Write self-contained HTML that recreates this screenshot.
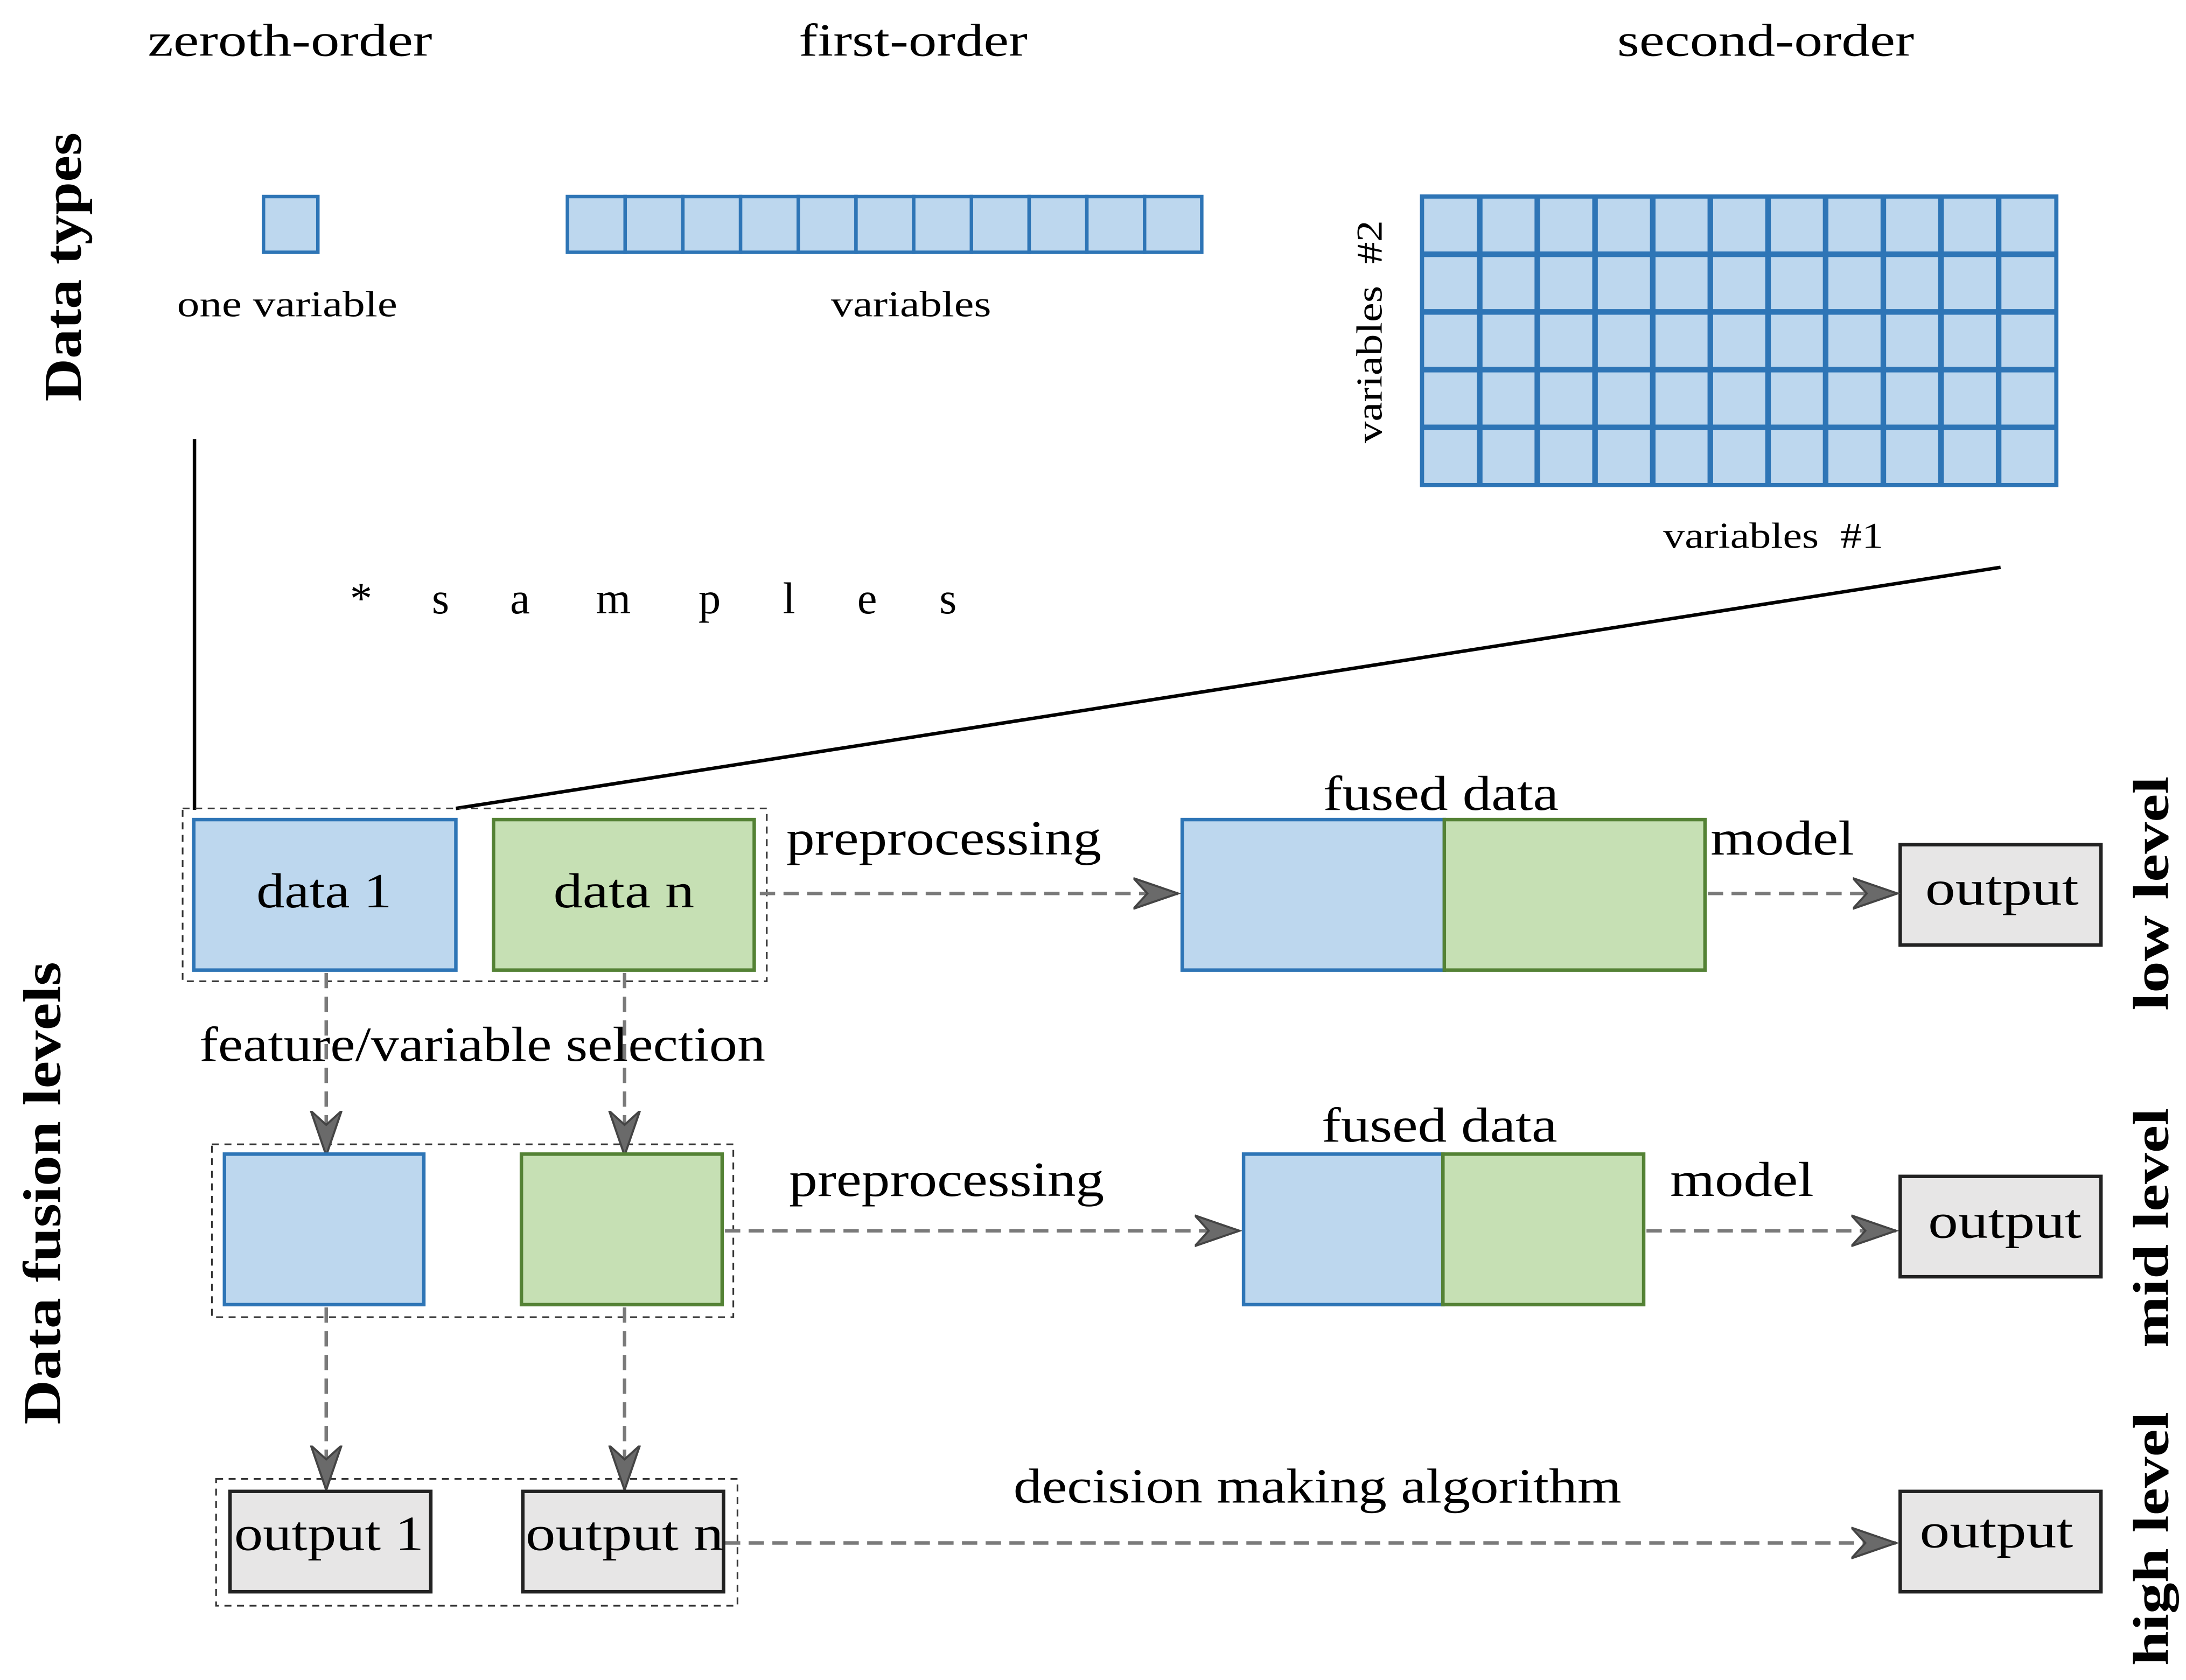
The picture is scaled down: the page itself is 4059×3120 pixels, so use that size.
<!DOCTYPE html>
<html><head><meta charset="utf-8">
<style>
html,body{margin:0;padding:0;background:#fff;}
svg{display:block;}
text{font-family:"Liberation Serif",serif;fill:#000;}
</style></head>
<body>
<svg width="4059" height="3120" viewBox="0 0 1568 1205.3" preserveAspectRatio="none" xmlns="http://www.w3.org/2000/svg">
<defs>
<marker id="ah" markerWidth="34" markerHeight="24" refX="32" refY="12" orient="auto" markerUnits="userSpaceOnUse">
<path d="M0,1 L32,12 L0,23 L10,12 Z" fill="#6a6a6a" stroke="#444" stroke-width="1.5"/>
</marker>
</defs>

<!-- headers -->
<text x="106" y="40" font-size="33" textLength="204" lengthAdjust="spacingAndGlyphs">zeroth-order</text>
<text x="573" y="40" font-size="33" textLength="164" lengthAdjust="spacingAndGlyphs">first-order</text>
<text x="1160" y="40" font-size="33" textLength="213" lengthAdjust="spacingAndGlyphs">second-order</text>
<text transform="translate(58,288) rotate(-90)" font-size="38" font-weight="bold" textLength="193" lengthAdjust="spacingAndGlyphs">Data types</text>

<!-- zeroth -->
<rect x="189" y="141" width="39" height="40" fill="#bdd7ee" stroke="#2e75b6" stroke-width="2.5"/>
<text x="127" y="227" font-size="26" textLength="158" lengthAdjust="spacingAndGlyphs">one variable</text>

<!-- first order -->
<g fill="#bdd7ee" stroke="#2e75b6" stroke-width="2.5">
<rect x="407" y="141" width="41.4" height="40"/><rect x="448.4" y="141" width="41.4" height="40"/>
<rect x="489.8" y="141" width="41.4" height="40"/><rect x="531.2" y="141" width="41.4" height="40"/>
<rect x="572.6" y="141" width="41.4" height="40"/><rect x="614" y="141" width="41.4" height="40"/>
<rect x="655.4" y="141" width="41.4" height="40"/><rect x="696.8" y="141" width="41.4" height="40"/>
<rect x="738.2" y="141" width="41.4" height="40"/><rect x="779.6" y="141" width="41.4" height="40"/>
<rect x="821" y="141" width="41" height="40"/>
</g>
<text x="596" y="227" font-size="26" textLength="115" lengthAdjust="spacingAndGlyphs">variables</text>

<!-- second order grid -->
<rect x="1020" y="141" width="455" height="207" fill="#bdd7ee" stroke="#2e75b6" stroke-width="3"/>
<g stroke="#2e75b6" stroke-width="4">
<line x1="1061.4" y1="141" x2="1061.4" y2="348"/><line x1="1102.7" y1="141" x2="1102.7" y2="348"/>
<line x1="1144.1" y1="141" x2="1144.1" y2="348"/><line x1="1185.5" y1="141" x2="1185.5" y2="348"/>
<line x1="1226.8" y1="141" x2="1226.8" y2="348"/><line x1="1268.2" y1="141" x2="1268.2" y2="348"/>
<line x1="1309.5" y1="141" x2="1309.5" y2="348"/><line x1="1350.9" y1="141" x2="1350.9" y2="348"/>
<line x1="1392.3" y1="141" x2="1392.3" y2="348"/><line x1="1433.6" y1="141" x2="1433.6" y2="348"/>
<line x1="1020" y1="182.4" x2="1475" y2="182.4"/><line x1="1020" y1="223.8" x2="1475" y2="223.8"/>
<line x1="1020" y1="265.2" x2="1475" y2="265.2"/><line x1="1020" y1="306.6" x2="1475" y2="306.6"/>
</g>
<text transform="translate(991,318) rotate(-90)" font-size="26" textLength="160" lengthAdjust="spacingAndGlyphs" xml:space="preserve">variables  #2</text>
<text x="1193" y="393" font-size="26" textLength="158" lengthAdjust="spacingAndGlyphs" xml:space="preserve">variables  #1</text>

<!-- samples -->
<g font-size="32" text-anchor="middle">
<text x="259" y="440">*</text><text x="316" y="440">s</text><text x="373" y="440">a</text>
<text x="440" y="440">m</text><text x="509" y="440">p</text><text x="566" y="440">l</text>
<text x="622" y="440">e</text><text x="680" y="440">s</text>
</g>
<line x1="139.5" y1="315" x2="139.5" y2="581" stroke="#000" stroke-width="2.5"/>
<line x1="327" y1="580" x2="1435" y2="407" stroke="#000" stroke-width="2.5"/>

<text transform="translate(43,1022) rotate(-90)" font-size="38" font-weight="bold" textLength="332" lengthAdjust="spacingAndGlyphs">Data fusion levels</text>

<!-- dashed group boxes -->
<g fill="none" stroke="#333" stroke-width="1.2" stroke-dasharray="5 4">
<rect x="131" y="580" width="419" height="124"/>
<rect x="152" y="821" width="374" height="124"/>
<rect x="155" y="1061" width="374" height="91"/>
</g>

<!-- low level -->
<rect x="139" y="588" width="188" height="108" fill="#bdd7ee" stroke="#2e75b6" stroke-width="2.5"/>
<rect x="354" y="588" width="187" height="108" fill="#c6e0b4" stroke="#548235" stroke-width="2.5"/>
<text x="184" y="651" font-size="35" textLength="97" lengthAdjust="spacingAndGlyphs">data 1</text>
<text x="397" y="651" font-size="35" textLength="101" lengthAdjust="spacingAndGlyphs">data n</text>
<text x="564" y="613" font-size="35" textLength="226" lengthAdjust="spacingAndGlyphs">preprocessing</text>
<rect x="848" y="588" width="188" height="108" fill="#bdd7ee" stroke="#2e75b6" stroke-width="2.5"/>
<rect x="1036" y="588" width="187" height="108" fill="#c6e0b4" stroke="#548235" stroke-width="2.5"/>
<text x="949" y="581" font-size="35" textLength="169" lengthAdjust="spacingAndGlyphs">fused data</text>
<text x="1227" y="613" font-size="35" textLength="103" lengthAdjust="spacingAndGlyphs">model</text>
<rect x="1363" y="606" width="144" height="72" fill="#e7e6e6" stroke="#222" stroke-width="2.5"/>
<text x="1381" y="649" font-size="35" textLength="110" lengthAdjust="spacingAndGlyphs">output</text>
<text transform="translate(1555,725) rotate(-90)" font-size="36" font-weight="bold" textLength="168" lengthAdjust="spacingAndGlyphs">low level</text>

<!-- arrows -->
<g stroke="#7a7a7a" stroke-width="2.5" stroke-dasharray="11 6" fill="none" marker-end="url(#ah)">
<line x1="545" y1="641" x2="845" y2="641"/>
<line x1="1225" y1="641" x2="1361" y2="641"/>
<line x1="234" y1="698" x2="234" y2="829"/>
<line x1="448" y1="698" x2="448" y2="829"/>
<line x1="520" y1="883" x2="889" y2="883"/>
<line x1="1181" y1="883" x2="1360" y2="883"/>
<line x1="234" y1="938" x2="234" y2="1069"/>
<line x1="448" y1="938" x2="448" y2="1069"/>
<line x1="520" y1="1107" x2="1360" y2="1107"/>
</g>
<text x="143" y="761" font-size="35" textLength="406" lengthAdjust="spacingAndGlyphs">feature/variable selection</text>

<!-- mid level -->
<rect x="161" y="828" width="143" height="108" fill="#bdd7ee" stroke="#2e75b6" stroke-width="2.5"/>
<rect x="374" y="828" width="144" height="108" fill="#c6e0b4" stroke="#548235" stroke-width="2.5"/>
<text x="566" y="858" font-size="35" textLength="226" lengthAdjust="spacingAndGlyphs">preprocessing</text>
<rect x="892" y="828" width="143" height="108" fill="#bdd7ee" stroke="#2e75b6" stroke-width="2.5"/>
<rect x="1035" y="828" width="144" height="108" fill="#c6e0b4" stroke="#548235" stroke-width="2.5"/>
<text x="948" y="819" font-size="35" textLength="169" lengthAdjust="spacingAndGlyphs">fused data</text>
<text x="1198" y="858" font-size="35" textLength="103" lengthAdjust="spacingAndGlyphs">model</text>
<rect x="1363" y="844" width="144" height="72" fill="#e7e6e6" stroke="#222" stroke-width="2.5"/>
<text x="1383" y="888" font-size="35" textLength="110" lengthAdjust="spacingAndGlyphs">output</text>
<text transform="translate(1555,967) rotate(-90)" font-size="36" font-weight="bold" textLength="172" lengthAdjust="spacingAndGlyphs">mid level</text>

<!-- high level -->
<rect x="165" y="1070" width="144" height="72" fill="#e7e6e6" stroke="#222" stroke-width="2.5"/>
<rect x="375" y="1070" width="144" height="72" fill="#e7e6e6" stroke="#222" stroke-width="2.5"/>
<text x="168" y="1112" font-size="35" textLength="136" lengthAdjust="spacingAndGlyphs">output 1</text>
<text x="377" y="1112" font-size="35" textLength="142" lengthAdjust="spacingAndGlyphs">output n</text>
<text x="727" y="1078" font-size="35" textLength="436" lengthAdjust="spacingAndGlyphs">decision making algorithm</text>
<rect x="1363" y="1070" width="144" height="72" fill="#e7e6e6" stroke="#222" stroke-width="2.5"/>
<text x="1377" y="1110" font-size="35" textLength="110" lengthAdjust="spacingAndGlyphs">output</text>
<text transform="translate(1555,1195) rotate(-90)" font-size="36" font-weight="bold" textLength="182" lengthAdjust="spacingAndGlyphs">high level</text>
</svg>
</body></html>
